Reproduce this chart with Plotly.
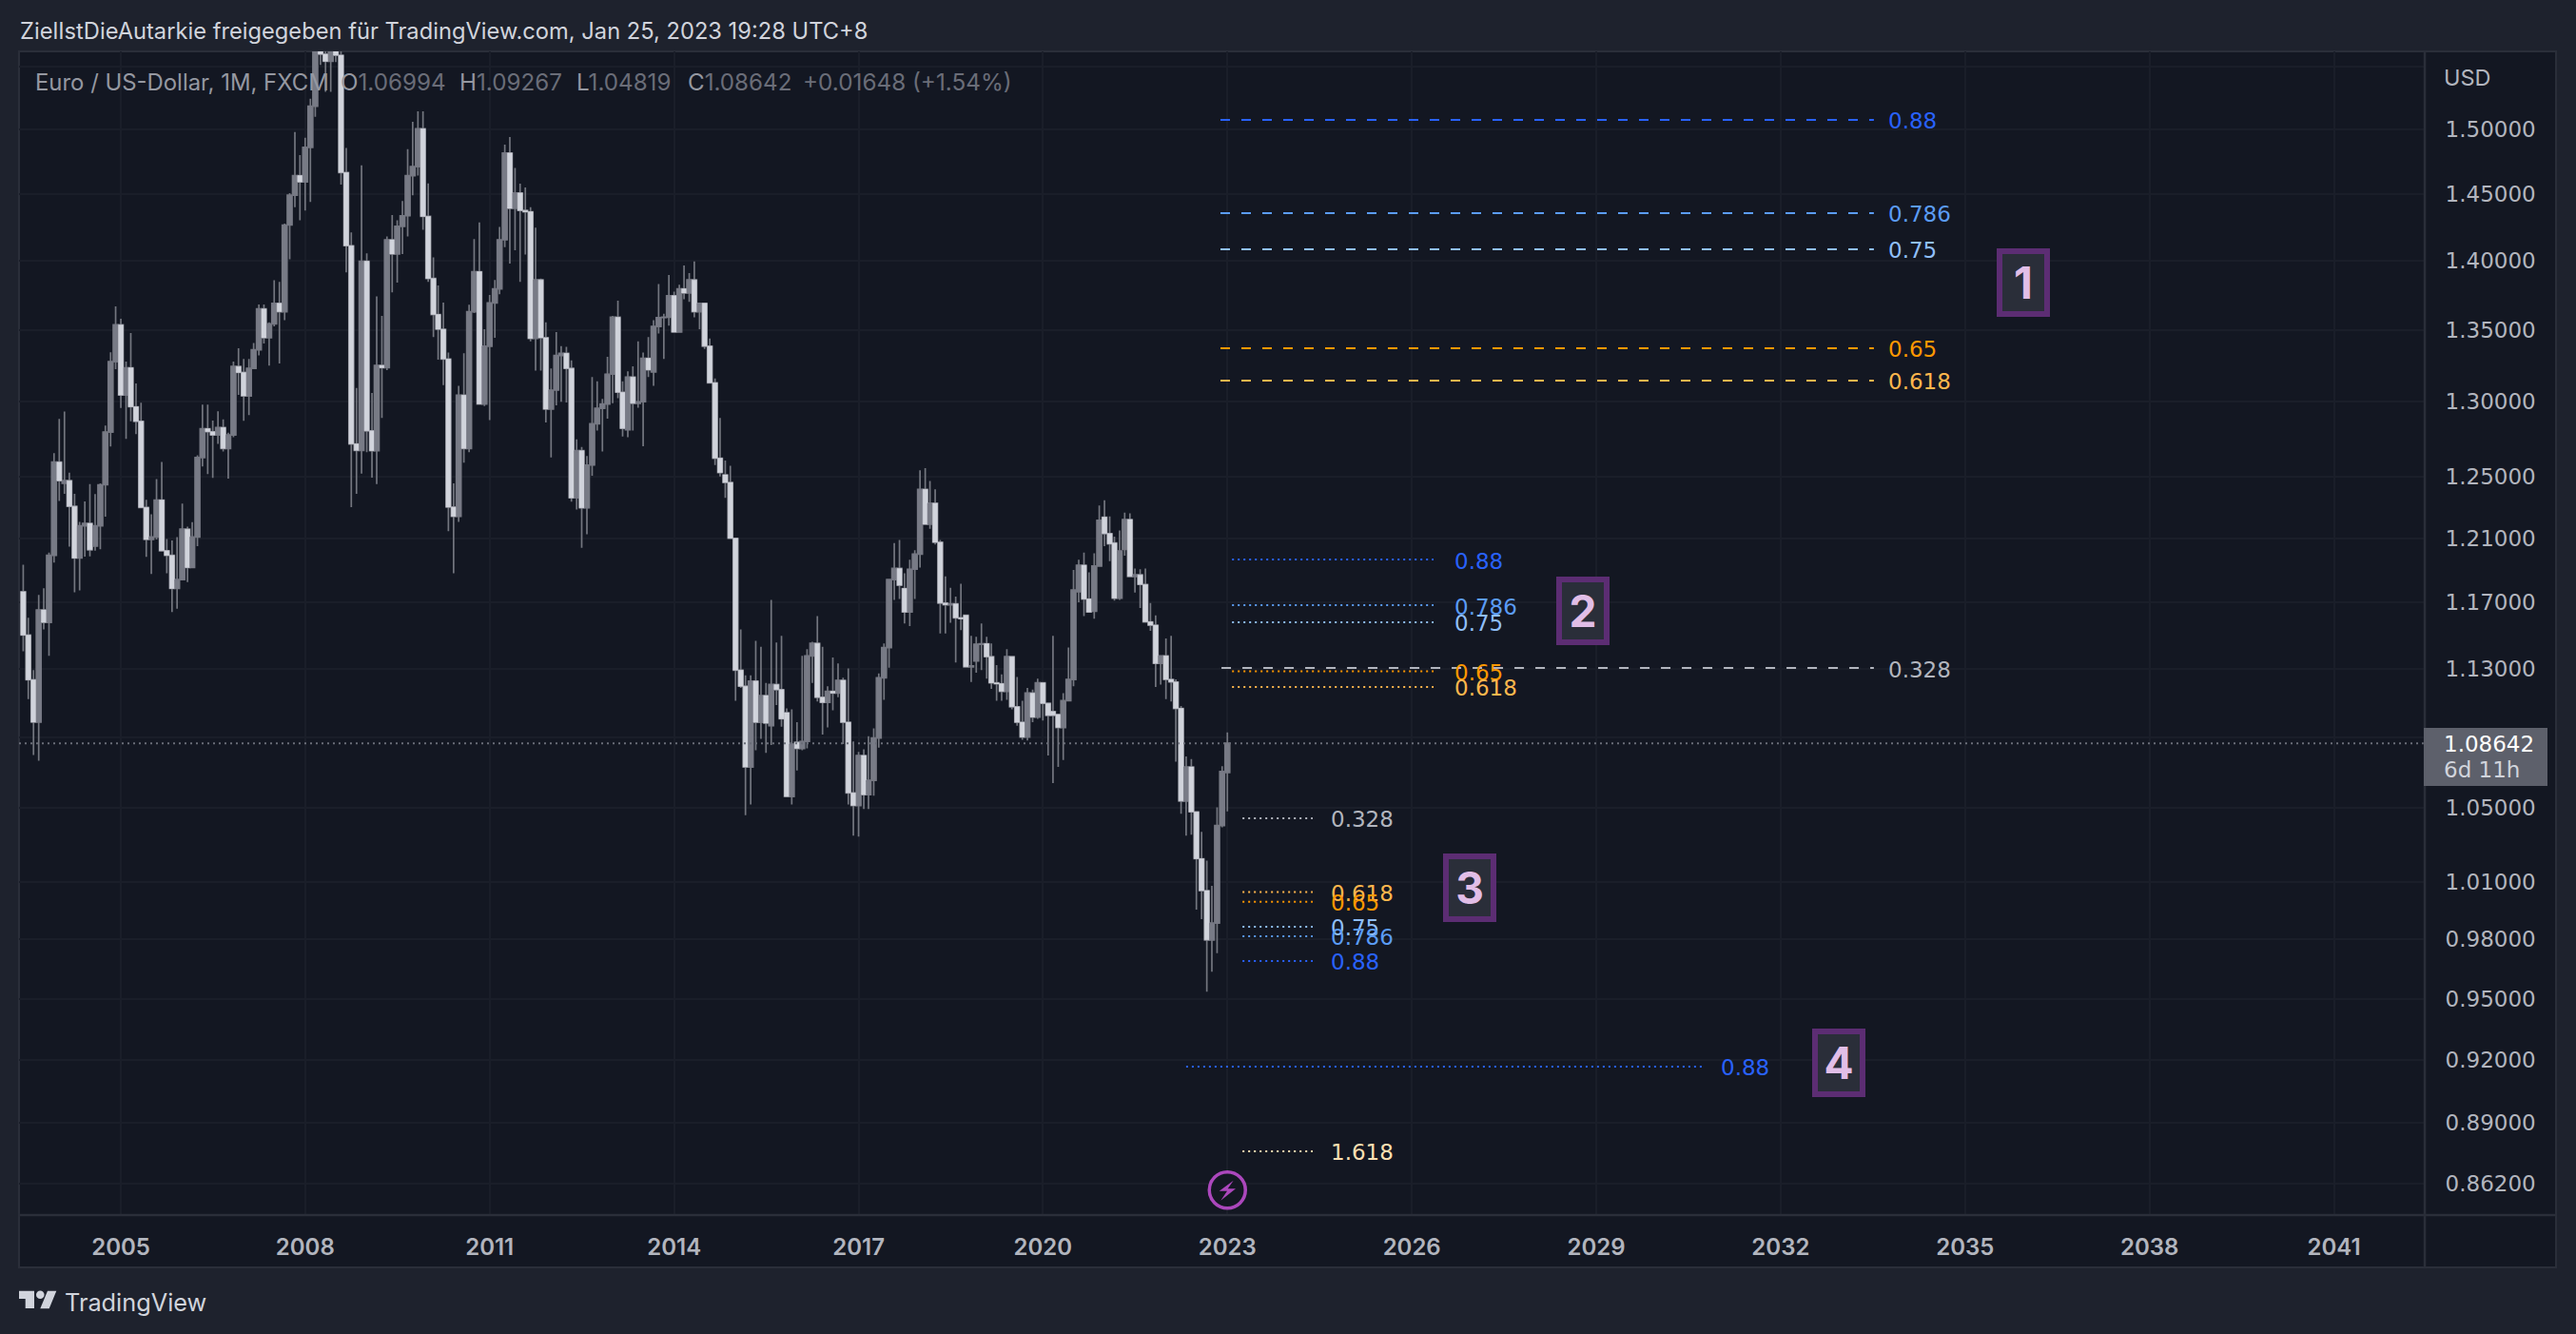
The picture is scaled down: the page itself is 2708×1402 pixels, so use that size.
import math

import pandas as pd
import plotly.graph_objects as go

W, H = 2708, 1402

# Monthly EUR/USD candles, June 2003 to January 2023
opens = [
    1.1765, 1.1500, 1.1233, 1.0986, 1.1653, 1.1577, 1.1992,
    1.2594, 1.2455, 1.2472, 1.2305, 1.1975, 1.2180, 1.2195, 1.2050, 1.2180, 1.2445, 1.2795, 1.3277,
    1.3536, 1.3046, 1.3234, 1.2966, 1.2867, 1.2298, 1.2093, 1.2108, 1.2346, 1.2021, 1.1992, 1.1785,
    1.1840, 1.2158, 1.1916, 1.2108, 1.2625, 1.2817, 1.2797, 1.2775, 1.2825, 1.2685, 1.2775, 1.3243,
    1.3202, 1.3040, 1.3230, 1.3360, 1.3650, 1.3445, 1.3543, 1.3690, 1.3630, 1.4265, 1.4490, 1.4640,
    1.4592, 1.4860, 1.5184, 1.5785, 1.5605, 1.5547, 1.5750, 1.5596, 1.4664, 1.4111, 1.2715, 1.2672,
    1.3996, 1.2803, 1.2670, 1.3251, 1.3235, 1.4155, 1.4050, 1.4255, 1.4335, 1.4640, 1.4710, 1.5005,
    1.4330, 1.3870, 1.3610, 1.3505, 1.3295, 1.2300, 1.2240, 1.3045, 1.2685, 1.3630, 1.3920, 1.2985,
    1.3385, 1.3693, 1.3795, 1.4155, 1.4815, 1.4391, 1.4507, 1.4375, 1.4365, 1.3440, 1.3860, 1.3445,
    1.2950, 1.3080, 1.3320, 1.3335, 1.3230, 1.2360, 1.2670, 1.2295, 1.2575, 1.2850, 1.2955, 1.2985,
    1.3190, 1.3590, 1.3065, 1.2810, 1.3170, 1.2990, 1.3000, 1.3300, 1.3205, 1.3525, 1.3588, 1.3590,
    1.3745, 1.3485, 1.3795, 1.3765, 1.3860, 1.3630, 1.3690, 1.3385, 1.3130, 1.2620, 1.2510, 1.2460,
    1.2100, 1.1290, 1.1195, 1.0730, 1.1225, 1.0985, 1.1140, 1.0965, 1.1205, 1.1175, 1.1040, 1.0565,
    1.0870, 1.0835, 1.0875, 1.1375, 1.1450, 1.1130, 1.1100, 1.1165, 1.1155, 1.1230, 1.0985, 1.0585,
    1.0515, 1.0795, 1.0575, 1.0655, 1.0895, 1.1245, 1.1425, 1.1840, 1.1910, 1.1785, 1.1640, 1.1905,
    1.2000, 1.2415, 1.2190, 1.2325, 1.2075, 1.1695, 1.1685, 1.1690, 1.1605, 1.1620, 1.1310, 1.1345,
    1.1445, 1.1448, 1.1370, 1.1215, 1.1210, 1.1165, 1.1370, 1.1075, 1.0985, 1.0900, 1.1155, 1.1015,
    1.1215, 1.1095, 1.1047, 1.1030, 1.0955, 1.1110, 1.1235, 1.1765, 1.1930, 1.1720, 1.1645, 1.1925,
    1.2235, 1.2130, 1.2070, 1.1725, 1.2030, 1.2220, 1.1860, 1.1870, 1.1810, 1.1580, 1.1560, 1.1330,
    1.1375, 1.1235, 1.1220, 1.1065, 1.0540, 1.0730, 1.0480, 1.0225, 1.0055, 0.9798, 0.9885, 1.0405,
    1.06994,
]
highs = [
    1.1933, 1.1605, 1.1290, 1.1745, 1.1787, 1.2010, 1.2653,
    1.2883, 1.2934, 1.2525, 1.2386, 1.2205, 1.2336, 1.2450, 1.2385, 1.2455, 1.2839, 1.3343, 1.3668,
    1.3580, 1.3277, 1.3478, 1.3125, 1.2993, 1.2347, 1.2254, 1.2482, 1.2595, 1.2095, 1.2087, 1.2108,
    1.2323, 1.2175, 1.2203, 1.2640, 1.2980, 1.2980, 1.2872, 1.2935, 1.2880, 1.2790, 1.3277, 1.3370,
    1.3295, 1.3295, 1.3408, 1.3682, 1.3682, 1.3555, 1.3857, 1.3845, 1.4276, 1.4506, 1.4980, 1.4800,
    1.4935, 1.5245, 1.5905, 1.6018, 1.5820, 1.5850, 1.6038, 1.5750, 1.4855, 1.4210, 1.3095, 1.4719,
    1.4054, 1.3060, 1.3740, 1.3600, 1.4180, 1.4340, 1.4300, 1.4447, 1.4845, 1.5060, 1.5143, 1.5143,
    1.4580, 1.4025, 1.3820, 1.3695, 1.3340, 1.2455, 1.3110, 1.3335, 1.3680, 1.4160, 1.4285, 1.3505,
    1.3750, 1.3860, 1.4250, 1.4880, 1.4940, 1.4700, 1.4578, 1.4550, 1.4400, 1.4245, 1.3870, 1.3555,
    1.3230, 1.3485, 1.3385, 1.3380, 1.3285, 1.2745, 1.2695, 1.2635, 1.3170, 1.3140, 1.3020, 1.3310,
    1.3600, 1.3710, 1.3140, 1.3210, 1.3245, 1.3420, 1.3340, 1.3450, 1.3570, 1.3830, 1.3615, 1.3895,
    1.3775, 1.3825, 1.3965, 1.3910, 1.3995, 1.3695, 1.3695, 1.3440, 1.3160, 1.2890, 1.2605, 1.2570,
    1.2100, 1.1535, 1.1260, 1.1260, 1.1465, 1.1430, 1.1215, 1.1715, 1.1455, 1.1495, 1.1065, 1.1060,
    1.0985, 1.1375, 1.1415, 1.1460, 1.1615, 1.1430, 1.1195, 1.1365, 1.1330, 1.1245, 1.1300, 1.0875,
    1.0815, 1.0830, 1.0905, 1.0950, 1.1270, 1.1450, 1.1845, 1.2070, 1.2090, 1.1880, 1.1965, 1.2025,
    1.2540, 1.2555, 1.2470, 1.2415, 1.2090, 1.1860, 1.1790, 1.1735, 1.1815, 1.1620, 1.1495, 1.1490,
    1.1570, 1.1490, 1.1450, 1.1320, 1.1265, 1.1415, 1.1375, 1.1250, 1.1110, 1.1185, 1.1175, 1.1240,
    1.1215, 1.1095, 1.1495, 1.1030, 1.1155, 1.1425, 1.1900, 1.1965, 1.2010, 1.1885, 1.2005, 1.2310,
    1.2345, 1.2240, 1.2110, 1.2150, 1.2265, 1.2260, 1.1910, 1.1905, 1.1910, 1.1695, 1.1620, 1.1375,
    1.1480, 1.1495, 1.1235, 1.1080, 1.0790, 1.0775, 1.0480, 1.0370, 1.0215, 1.0080, 1.0505, 1.0735,
    1.09267,
]
lows = [
    1.1402, 1.1120, 1.0798, 1.0765, 1.1535, 1.1375, 1.1947,
    1.2340, 1.2386, 1.2047, 1.1762, 1.1773, 1.1984, 1.1985, 1.2021, 1.2031, 1.2239, 1.2698, 1.3225,
    1.2957, 1.2749, 1.2867, 1.2781, 1.2298, 1.1983, 1.1875, 1.2093, 1.2021, 1.1880, 1.1640, 1.1660,
    1.1840, 1.1825, 1.1916, 1.2050, 1.2565, 1.2515, 1.2490, 1.2715, 1.2665, 1.2485, 1.2760, 1.3047,
    1.2870, 1.2910, 1.3230, 1.3320, 1.3405, 1.3250, 1.3525, 1.3265, 1.3570, 1.4010, 1.4400, 1.4300,
    1.4375, 1.4440, 1.5100, 1.5517, 1.5300, 1.5300, 1.5540, 1.4571, 1.3915, 1.2300, 1.2386, 1.2519,
    1.2660, 1.2492, 1.2450, 1.2890, 1.3218, 1.3770, 1.3840, 1.4050, 1.4180, 1.4490, 1.4640, 1.4230,
    1.3845, 1.3450, 1.3290, 1.3115, 1.2145, 1.1880, 1.2205, 1.2590, 1.2660, 1.3620, 1.2985, 1.2970,
    1.2875, 1.3445, 1.3755, 1.4100, 1.3980, 1.4078, 1.3845, 1.4045, 1.3420, 1.3215, 1.3215, 1.2860,
    1.2625, 1.2975, 1.3000, 1.2995, 1.2335, 1.2285, 1.2040, 1.2125, 1.2505, 1.2805, 1.2665, 1.2885,
    1.2990, 1.3025, 1.2765, 1.2760, 1.2805, 1.2960, 1.2700, 1.3170, 1.3110, 1.3475, 1.3295, 1.3530,
    1.3485, 1.3485, 1.3720, 1.3700, 1.3590, 1.3505, 1.3365, 1.3130, 1.2575, 1.2500, 1.2360, 1.2100,
    1.1110, 1.1185, 1.0462, 1.0520, 1.0825, 1.0890, 1.0810, 1.0855, 1.1085, 1.0960, 1.0565, 1.0520,
    1.0710, 1.0825, 1.0835, 1.1215, 1.1105, 1.0915, 1.0955, 1.1055, 1.1130, 1.0860, 1.0520, 1.0350,
    1.0345, 1.0495, 1.0495, 1.0570, 1.0840, 1.1115, 1.1305, 1.1715, 1.1720, 1.1570, 1.1555, 1.1720,
    1.1915, 1.2190, 1.2160, 1.2060, 1.1510, 1.1510, 1.1575, 1.1335, 1.1530, 1.1310, 1.1220, 1.1275,
    1.1290, 1.1240, 1.1180, 1.1110, 1.1110, 1.1115, 1.1060, 1.0965, 1.0885, 1.0880, 1.0985, 1.1005,
    1.0995, 1.0795, 1.0640, 1.0730, 1.0770, 1.1110, 1.1195, 1.1700, 1.1615, 1.1640, 1.1600, 1.1925,
    1.2050, 1.1955, 1.1710, 1.1715, 1.1990, 1.1860, 1.1760, 1.1665, 1.1575, 1.1525, 1.1190, 1.1205,
    1.1120, 1.1105, 1.0760, 1.0470, 1.0350, 1.0355, 0.9955, 0.9905, 0.9535, 0.9635, 0.9730, 1.0395,
    1.04819,
]
closes = [
    1.1500, 1.1233, 1.0986, 1.1653, 1.1577, 1.1992, 1.2594,
    1.2472, 1.2472, 1.2305, 1.1975, 1.2180, 1.2195, 1.2027, 1.2180, 1.2445, 1.2795, 1.3277, 1.3536,
    1.3046, 1.3234, 1.2966, 1.2867, 1.2298, 1.2093, 1.2108, 1.2346, 1.2021, 1.1992, 1.1785, 1.1840,
    1.2158, 1.1916, 1.2108, 1.2625, 1.2817, 1.2797, 1.2775, 1.2825, 1.2685, 1.2775, 1.3243, 1.3202,
    1.3040, 1.3230, 1.3360, 1.3650, 1.3445, 1.3543, 1.3690, 1.3630, 1.4265, 1.4490, 1.4640, 1.4592,
    1.4860, 1.5184, 1.5785, 1.5605, 1.5547, 1.5750, 1.5596, 1.4664, 1.4111, 1.2715, 1.2672, 1.3996,
    1.2803, 1.2670, 1.3251, 1.3235, 1.4155, 1.4050, 1.4255, 1.4335, 1.4640, 1.4710, 1.5005, 1.4330,
    1.3870, 1.3610, 1.3505, 1.3295, 1.2300, 1.2240, 1.3045, 1.2685, 1.3630, 1.3920, 1.2985, 1.3385,
    1.3693, 1.3795, 1.4155, 1.4815, 1.4391, 1.4507, 1.4375, 1.4365, 1.3440, 1.3860, 1.3445, 1.2950,
    1.3080, 1.3320, 1.3335, 1.3230, 1.2360, 1.2670, 1.2295, 1.2575, 1.2850, 1.2955, 1.2985, 1.3190,
    1.3590, 1.3065, 1.2820, 1.3170, 1.2990, 1.3000, 1.3300, 1.3220, 1.3525, 1.3588, 1.3590, 1.3745,
    1.3485, 1.3795, 1.3765, 1.3860, 1.3630, 1.3690, 1.3385, 1.3130, 1.2620, 1.2525, 1.2460, 1.2100,
    1.1290, 1.1195, 1.0730, 1.1225, 1.0985, 1.1140, 1.0980, 1.1205, 1.1175, 1.1005, 1.0565, 1.0860,
    1.0835, 1.0875, 1.1375, 1.1450, 1.1130, 1.1100, 1.1165, 1.1155, 1.1230, 1.0985, 1.0585, 1.0515,
    1.0795, 1.0575, 1.0655, 1.0895, 1.1245, 1.1425, 1.1840, 1.1910, 1.1805, 1.1640, 1.1905, 1.2000,
    1.2415, 1.2190, 1.2325, 1.2075, 1.1695, 1.1685, 1.1690, 1.1605, 1.1600, 1.1310, 1.1315, 1.1445,
    1.1448, 1.1370, 1.1215, 1.1210, 1.1165, 1.1370, 1.1075, 1.0985, 1.0900, 1.1155, 1.1015, 1.1215,
    1.1095, 1.1025, 1.1025, 1.0955, 1.1110, 1.1235, 1.1775, 1.1930, 1.1720, 1.1640, 1.1925, 1.2215,
    1.2130, 1.2065, 1.1725, 1.2020, 1.2220, 1.1860, 1.1870, 1.1810, 1.1580, 1.1560, 1.1330, 1.1375,
    1.1235, 1.1220, 1.1065, 1.0540, 1.0730, 1.0480, 1.0225, 1.0055, 0.9798, 0.9885, 1.0405, 1.0705,
    1.08642,
]
months = pd.date_range("2003-06-01", periods=len(opens), freq="MS")

last_price = 1.08642

# Price axis ticks, the blank ones only have a grid line
price_ticks = [1.55, 1.5, 1.45, 1.4, 1.35, 1.3, 1.25, 1.21, 1.17, 1.13, 1.09, 1.05, 1.01, 0.98, 0.95, 0.92, 0.89, 0.862]
price_labels = ["", "1.50000", "1.45000", "1.40000", "1.35000", "1.30000", "1.25000", "1.21000", "1.17000",
                "1.13000", "", "1.05000", "1.01000", "0.98000", "0.95000", "0.92000", "0.89000", "0.86200"]
year_ticks = ["2005-01-01", "2008-01-01", "2011-01-01", "2014-01-01", "2017-01-01", "2020-01-01", "2023-01-01",
              "2026-01-01", "2029-01-01", "2032-01-01", "2035-01-01", "2038-01-01", "2041-01-01"]
year_labels = ["2005", "2008", "2011", "2014", "2017", "2020", "2023", "2026", "2029", "2032", "2035", "2038", "2041"]

# Fibonacci levels drawn on the chart
level_colors = {"0.88": "#2962ff", "0.786": "#5b9cf6", "0.75": "#90bff9", "0.65": "#ff9800",
                "0.618": "#ffb74d", "0.328": "#b2b5be", "1.618": "#ffe0b2"}

names_1 = ["0.88", "0.786", "0.75", "0.65", "0.618"]
prices_1 = [1.5076, 1.4355, 1.4085, 1.3371, 1.3146]
names_2 = ["0.88", "0.786", "0.75", "0.65", "0.618"]
prices_2 = [1.1966, 1.1682, 1.1578, 1.1283, 1.1191]
names_2b = ["0.328"]
prices_2b = [1.1303]
names_3 = ["0.328", "0.618", "0.65", "0.75", "0.786", "0.88", "1.618"]
prices_3 = [1.0445, 1.0047, 0.9996, 0.9866, 0.9817, 0.9690, 0.8768]
names_4 = ["0.88"]
prices_4 = [0.9167]

# names, prices, start, end, label date, dash, width
level_groups = [
    (names_1, prices_1, "2022-11-21", "2033-07-08", "2033-09-27", "10px,12px", 2),
    (names_2b, prices_2b, "2022-11-27", "2033-07-08", "2033-09-27", "10px,12px", 2),
    (names_2, prices_2, "2023-01-29", "2026-05-10", "2026-09-05", "2px,4px", 2),
    (names_3, prices_3, "2023-04-01", "2024-05-22", "2024-09-02", "2px,4px", 2),
    (names_4, prices_4, "2022-05-01", "2030-09-19", "2031-01-05", "2px,4px", 2),
]

# Numbered boxes
box_texts = ["1", "2", "3", "4"]
box_x = [2127, 1664, 1545, 1933]
box_y = [297, 642, 933, 1117]

# Header values of the symbol line
ohlc_labels = ["O", "H", "L", "C"]
ohlc_values = ["1.06994", "1.09267", "1.04819", "1.08642"]
ohlc_x = [357, 482, 605, 722]


def px(x):
    return x / W


def py(y):
    return 1 - y / H


GRAY = "#787b86"
WHITE = "#d1d4dc"
BG = "#1e222d"
PANE = "#131722"
GRID = "#1a1e29"
BORDER = "#2a2e39"
FONT = "Inter"
NUM_FONT = "DejaVu Sans"

fig = go.Figure()

# Wicks
fig.add_trace(go.Candlestick(
    x=months, open=opens, high=highs, low=lows, close=closes,
    whiskerwidth=0,
    increasing=dict(line=dict(color="#73767f", width=1.7), fillcolor="rgba(0,0,0,0)"),
    decreasing=dict(line=dict(color="#73767f", width=1.7), fillcolor="rgba(0,0,0,0)"),
    hoverinfo="skip", showlegend=False,
))
# Bodies, the high and low are cut to the body so the wicks stay gray
fig.add_trace(go.Candlestick(
    x=months, open=opens, close=closes,
    high=[max(o, c) for o, c in zip(opens, closes)],
    low=[min(o, c) for o, c in zip(opens, closes)],
    whiskerwidth=0,
    increasing=dict(line=dict(color=GRAY, width=0.6), fillcolor=GRAY),
    decreasing=dict(line=dict(color=WHITE, width=0.6), fillcolor=WHITE),
    hoverinfo="skip", showlegend=False,
))

# Last price line
fig.add_trace(go.Scatter(
    x=["2003-05-07", "2042-06-24"], y=[last_price, last_price], mode="lines",
    line=dict(color="#6a6d78", width=2, dash="2px,4px"), hoverinfo="skip", showlegend=False,
))

annotations = []

for names, prices, start, end, label_at, dash, width in level_groups:
    for name, price in zip(names, prices):
        color = level_colors[name]
        fig.add_trace(go.Scatter(
            x=[start, end], y=[price, price], mode="lines",
            line=dict(color=color, width=width, dash=dash), hoverinfo="skip", showlegend=False,
        ))
        # log axis: annotations take the log10 of the price
        annotations.append(dict(
            x=label_at, y=math.log10(price), xref="x", yref="y", text=name, showarrow=False,
            xanchor="left", yanchor="middle", yshift=-1.5, xshift=-1,
            font=dict(color=color, size=23, family=NUM_FONT),
        ))

# Lightning marker under the last candle
fig.add_trace(go.Scatter(
    x=["2023-01-01"], y=[0.8591], mode="markers",
    marker=dict(symbol="circle", size=38, color=PANE, line=dict(color="#ab47bc", width=3.5)),
    hoverinfo="skip", showlegend=False,
))

shapes = [
    # panes
    dict(type="rect", xref="paper", yref="paper", x0=px(20), x1=px(2687), y0=py(1332), y1=py(54),
         fillcolor=PANE, line=dict(color=BORDER, width=2), layer="below"),
    dict(type="line", xref="paper", yref="paper", x0=px(2549), x1=px(2549), y0=py(1332), y1=py(54),
         line=dict(color=BORDER, width=2.5), layer="above"),
    dict(type="line", xref="paper", yref="paper", x0=px(20), x1=px(2687), y0=py(1277), y1=py(1277),
         line=dict(color=BORDER, width=2.5), layer="above"),
    # price tag
    dict(type="rect", xref="paper", yref="paper", x0=px(2548), x1=px(2678), y0=py(826), y1=py(765),
         fillcolor="#5d606b", line=dict(width=0), layer="above"),
]


def poly(points, color):
    path = "M " + " L ".join(f"{px(x):.5f},{py(y):.5f}" for x, y in points) + " Z"
    return dict(type="path", xref="paper", yref="paper", path=path, fillcolor=color,
                line=dict(width=0), layer="above")


# bolt in the marker
shapes.append(poly([(1296.7, 1240.7), (1281.7, 1251.7), (1290, 1251.7), (1283.3, 1261.7),
                    (1299, 1249.3), (1290.7, 1249.3)], "#ab47bc"))
# TradingView logo
shapes.append(poly([(20, 1356.7), (36, 1356.7), (36, 1375), (26.7, 1375), (26.7, 1365), (20, 1365)], WHITE))
shapes.append(poly([(50, 1356.7), (59.3, 1356.7), (51.7, 1375.3), (42.3, 1375.3)], WHITE))
shapes.append(dict(type="circle", xref="paper", yref="paper", x0=px(38), x1=px(46.6), y0=py(1365), y1=py(1356.4),
                   fillcolor=WHITE, line=dict(width=0), layer="above"))


def note(x, y, text, color, size=24, anchor="left", family=FONT, **kw):
    annotations.append(dict(xref="paper", yref="paper", x=px(x), y=py(y), text=text, showarrow=False,
                            xanchor=anchor, yanchor="middle", borderpad=0,
                            font=dict(color=color, size=size, family=family), **kw))


note(20, 32, "ZielIstDieAutarkie freigegeben für TradingView.com, Jan 25, 2023 19:28 UTC+8", WHITE, size=23.7)
note(36, 86, "Euro / US-Dollar, 1M, FXCM", "#9598a1", size=23.9)
for lab, val, xpos in zip(ohlc_labels, ohlc_values, ohlc_x):
    note(xpos, 86, f'<span style="color:#9598a1">{lab}</span><span style="color:#6a6d78">{val}</span>', "#6a6d78", size=24.2)
note(843, 86, "+0.01648 (+1.54%)", "#6a6d78", size=24.3)
note(2568, 81, "USD", "#b2b5be", size=23.5)
note(2568, 782, "1.08642", "#ffffff", size=23, family=NUM_FONT)
note(2568, 809, "6d 11h", "#d1d4dc", size=23, family=NUM_FONT)
note(67, 1368, "TradingView", WHITE, size=25.3)

for txt, bx, by in zip(box_texts, box_x, box_y):
    note(bx, by, f"<b>{txt}</b>", "#e1bee7", size=46, anchor="center",
         bgcolor="#2a2e39", bordercolor="#5c2d73", borderwidth=6, width=44, height=60, align="center")

fig.update_layout(
    width=W, height=H, autosize=False,
    margin=dict(l=0, r=0, t=0, b=0),
    paper_bgcolor=BG, plot_bgcolor="rgba(0,0,0,0)",
    showlegend=False, boxgap=0, boxgroupgap=0,
    shapes=shapes, annotations=annotations,
    xaxis=dict(
        domain=[px(20), px(2549)], range=["2003-05-07", "2042-06-24"], type="date",
        tickvals=year_ticks, ticktext=year_labels,
        tickfont=dict(color="#b2b5be", size=24, family=FONT, weight=600),
        ticks="outside", ticklen=12, tickcolor="rgba(0,0,0,0)",
        showgrid=True, gridcolor=GRID, gridwidth=2, zeroline=False, showline=False,
        rangeslider=dict(visible=False), fixedrange=True,
    ),
    yaxis=dict(
        domain=[py(1277), py(54)], type="log", side="right",
        range=[math.log10(0.8479), math.log10(1.5628)],
        tickvals=price_ticks, ticktext=price_labels,
        tickfont=dict(color="#b2b5be", size=23, family=NUM_FONT),
        ticks="outside", ticklen=16, tickcolor="rgba(0,0,0,0)",
        showgrid=True, gridcolor=GRID, gridwidth=2, zeroline=False, showline=False, fixedrange=True,
    ),
)

fig.write_html("out.html", config={"displayModeBar": False},
               post_script="document.body.style.margin='0';document.body.style.background='#1e222d';")
